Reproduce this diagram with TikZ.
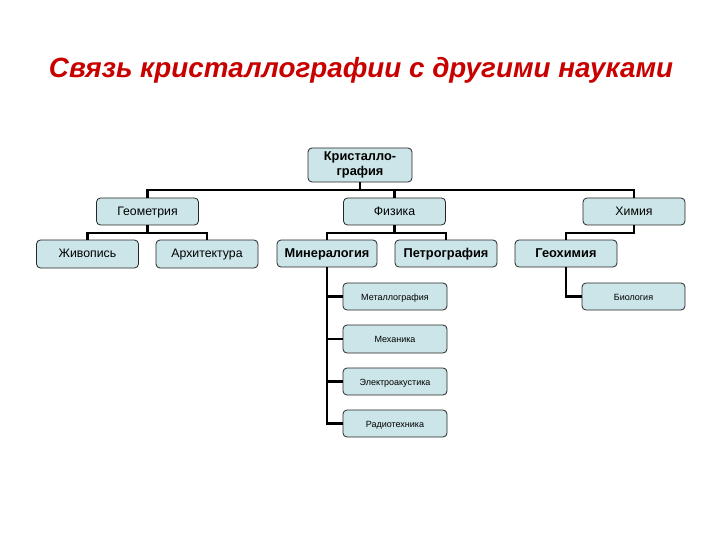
\documentclass[tikz,border=0pt]{standalone}
\usepackage{fontspec}
\setmainfont{Liberation Sans}
\definecolor{boxfill}{RGB}{204,229,232}
\definecolor{titlered}{RGB}{200,0,0}
\tikzset{
  box/.style={draw=black!85, line width=0.8pt, fill=boxfill, rounded corners=4pt,
    inner sep=0pt, minimum width=102pt, minimum height=27pt, align=center, font=\fontsize{12.3}{14}\selectfont},
  one/.style={text height=1.45ex, text depth=0pt},
  boldbox/.style={box, font=\fontsize{12.8}{14.5}\selectfont\bfseries},
  smallbox/.style={box, font=\fontsize{9}{11}\selectfont},
  conn/.style={draw=black, line width=2.2pt},
}
\begin{document}
\begin{tikzpicture}[x=1pt,y=-1pt]
\useasboundingbox (0,0) rectangle (720,540);
\node[font=\fontsize{27.8}{31}\selectfont\bfseries\itshape, text=titlered, anchor=base] (title) at (361,78) {Связь кристаллографии с другими науками};

\coordinate (bus1) at (0,190);
\coordinate (bus2) at (0,233);

\node[boldbox, minimum width=104pt, minimum height=34pt] (kr) at (360,165) {Кристалло-\\графия};
\node[box, one] (geo) at (147.5,211.5) {Геометрия};
\node[box, one] (fiz) at (394.5,211.5) {Физика};
\node[box, one] (him) at (634,211.5) {Химия};
\node[box, one, minimum height=28pt] (zhiv) at (87.5,254) {Живопись};
\node[box, one, minimum height=28pt] (arh) at (207,254) {Архитектура};
\node[boldbox, one, minimum width=100pt] (min) at (327,253.5) {Минералогия};
\node[boldbox, one] (petr) at (446,253.5) {Петрография};
\node[boldbox, one] (geoh) at (566,253.5) {Геохимия};
\node[smallbox, one, minimum width=104pt] (met) at (395,296.5) {Металлография};
\node[smallbox, one, minimum width=104pt, minimum height=28pt] (meh) at (395,339) {Механика};
\node[smallbox, one, minimum width=104pt] (el) at (395,381.5) {Электроакустика};
\node[smallbox, one, minimum width=104pt] (rad) at (395,423.5) {Радиотехника};
\node[smallbox, one, minimum width=103pt] (bio) at (633.5,296.5) {Биология};

\draw[conn] (kr.south) -- (kr.south|-bus1);
\draw[conn] (geo.north) -- (geo.north|-bus1) -- (him.north|-bus1) -- (him.north);
\draw[conn] (fiz.north) -- (fiz.north|-bus1);

\draw[conn] (geo.south) -- (geo.south|-bus2);
\draw[conn] (zhiv.north) -- (zhiv.north|-bus2) -- (arh.north|-bus2) -- (arh.north);

\draw[conn] (fiz.south) -- (fiz.south|-bus2);
\draw[conn] (min.north) -- (min.north|-bus2) -- (petr.north|-bus2) -- (petr.north);

\draw[conn] (him.south) -- (him.south|-bus2) -- (geoh.north|-bus2) -- (geoh.north);
\draw[conn] (geoh.south) |- (bio.west);

\draw[conn] (min.south) |- (met.west);
\draw[conn] (min.south) |- (meh.west);
\draw[conn] (min.south) |- (el.west);
\draw[conn] (min.south) |- (rad.west);
\end{tikzpicture}
\end{document}
